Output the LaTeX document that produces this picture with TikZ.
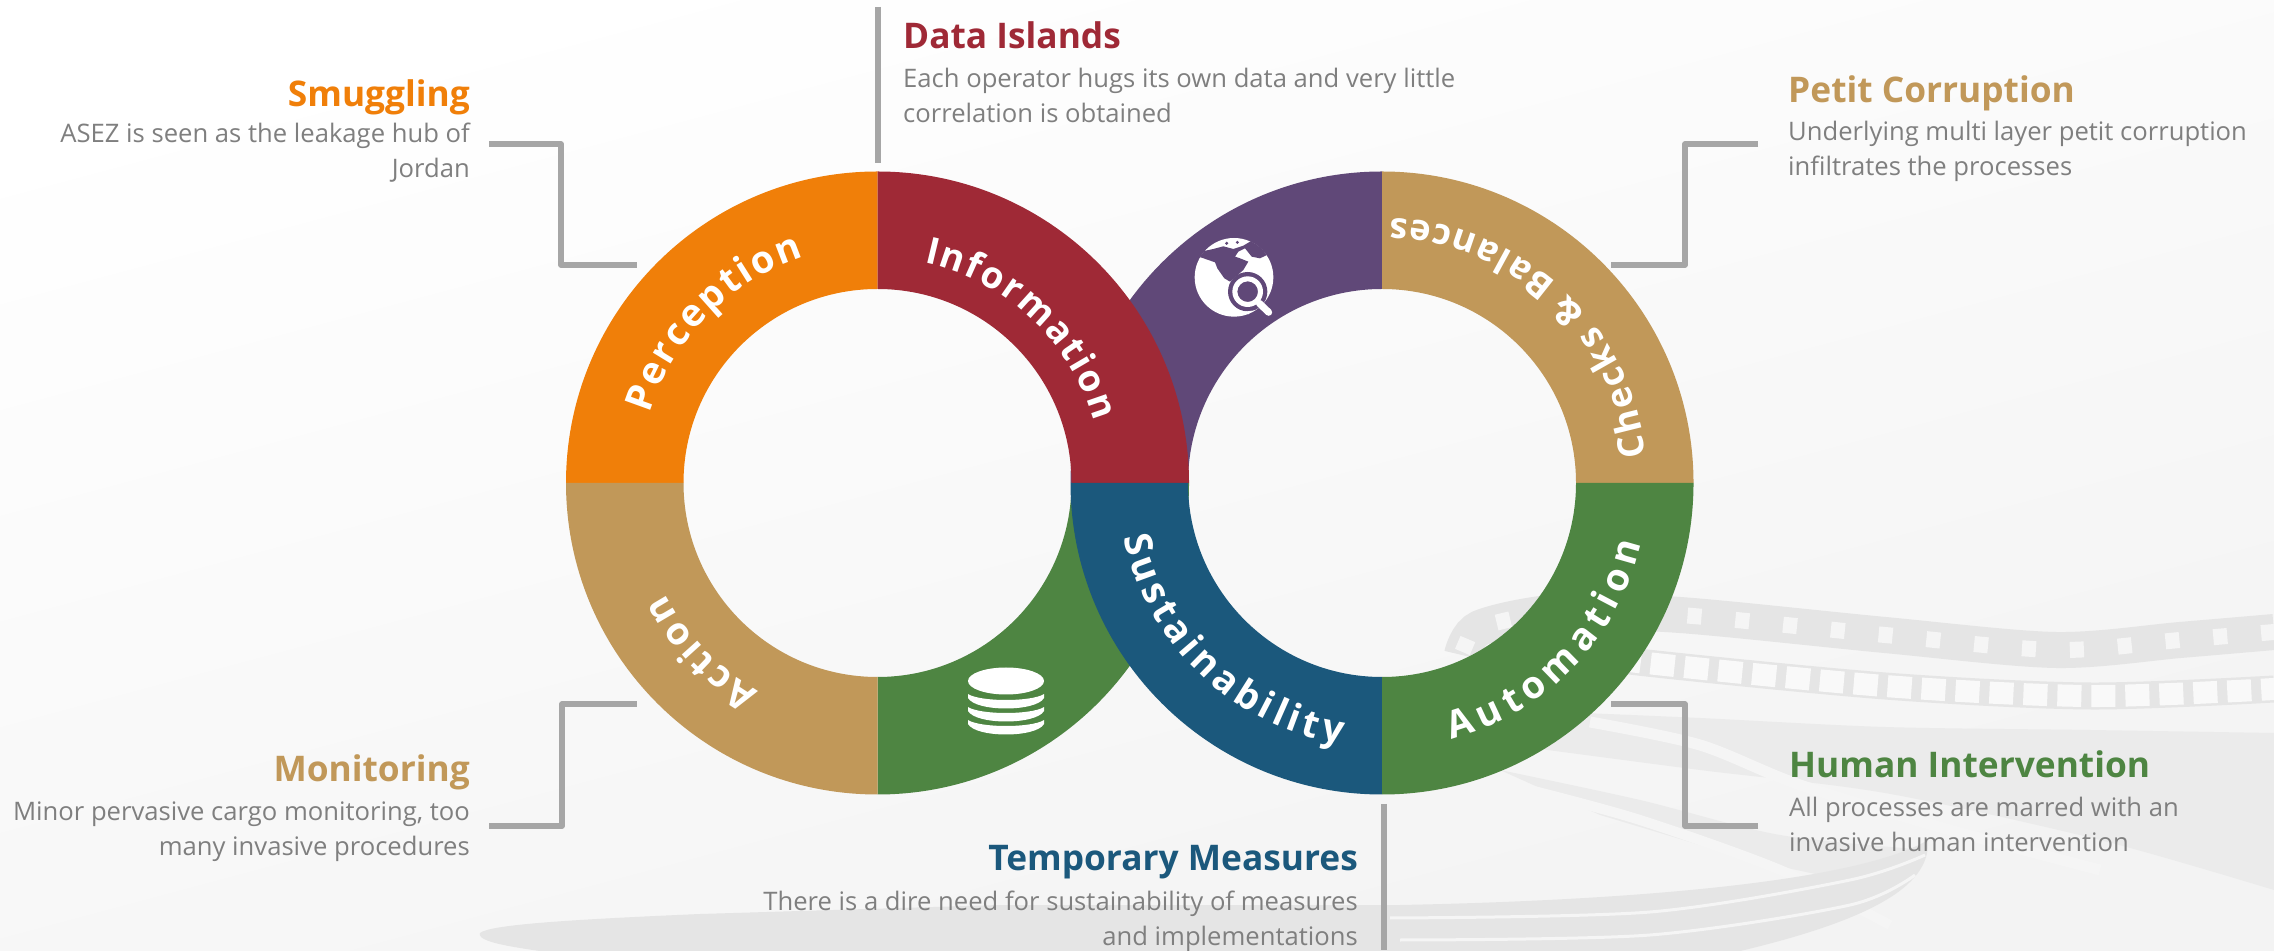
\documentclass[tikz,border=0pt]{standalone}
\usepackage{fontspec}
\setmainfont{Open Sans}
\newfontfamily\bodyfont{Open Sans}[FakeStretch=1.005]
\newfontfamily\titlefont{Open Sans}[FakeStretch=1.0]
\newfontfamily\ringfamily{Open Sans}
\usetikzlibrary{decorations.markings}
\definecolor{cOrange}{HTML}{F07F09}
\definecolor{cRed}{HTML}{9F2936}
\definecolor{cBlue}{HTML}{1B587C}
\definecolor{cGreen}{HTML}{4E8542}
\definecolor{cPurple}{HTML}{604878}
\definecolor{cTan}{HTML}{C19859}
\definecolor{cBody}{HTML}{7F7F7F}
\definecolor{cLead}{HTML}{A6A6A6}
\definecolor{wmA}{HTML}{E5E5E5}
\definecolor{wmB}{HTML}{EBEBEB}
\definecolor{wmC}{HTML}{F5F5F5}
\definecolor{bgEnd}{HTML}{F3F3F3}
\tikzset{
  px/.style={x=1pt,y=-1pt,yshift=950pt},
  ttl/.style={font=\titlefont\bfseries\fontsize{35.3}{40}\selectfont,inner sep=0pt},
  bod/.style={font=\bodyfont\fontsize{25.5}{35}\selectfont,text=cBody,inner sep=0pt},
  lead/.style={draw=cLead,line width=5.5pt,line join=round},
  ringletter/.style={inner sep=0pt,text=white,anchor=base},
  holes/.style={postaction={decorate,decoration={markings,
     mark=between positions 10pt and 1 step 48pt with {\fill[wmC] (-7pt,-8pt) rectangle (7pt,8pt);}}}},
  squares/.style={postaction={decorate,decoration={markings,
     mark=between positions 6pt and 1 step 34pt with {\fill[wmC!60!white] (-12pt,-11pt) rectangle (12pt,11pt);}}}},
}
\def\rs{38}
\newcommand{\ringf}{\ringfamily\bfseries\fontsize{\rs}{44}\selectfont}
\newcommand{\sect}[5]{%
  \fill[#1] (#2,#3) ++(#4:311.5) arc[start angle=#4,end angle=#5,radius=311.5]
    -- ++(#5:-117.5) arc[start angle=#5,end angle=#4,radius=194] -- cycle;}
% name, cx, cy, baseline radius, mid angle, dir (1 = clockwise with tops out, -1 = counter-clockwise with tops in), tracking, letter/advance list
\newcommand{\arctext}[8]{%
  \gdef\arcsum{0}%
  \foreach \ch/\wf in {#8}{%
    \pgfmathparse{\arcsum+\wf*\rs+#7}\xdef\arcsum{\pgfmathresult}}%
  \gdef\arcpos{0}%
  \foreach \ch/\wf [count=\i] in {#8}{%
    \pgfmathsetmacro\arcw{\wf*\rs}%
    \pgfmathsetmacro\arca{#5-#6*(\arcpos+\arcw/2+#7/2-\arcsum/2)/#4*57.29578}%
    \pgfmathsetmacro\arcr{\arca-#6*90}%
    \path (#2,#3) ++(\arca:#4) node[ringletter,rotate=\arcr] (#1\i) {\ringf\ch};
    \pgfmathparse{\arcpos+\arcw+#7}\xdef\arcpos{\pgfmathresult}}%
}
\begin{document}
\begin{tikzpicture}[x=1pt,y=1pt]
\useasboundingbox (0,0) rectangle (2274,950);
\shade[top color=white,bottom color=bgEnd,shading angle=15] (0,0) rectangle (2274,950);
% watermark
\begin{scope}[px]
\clip (0,0) rectangle (2274,950);
\fill[wmB] plot[smooth] coordinates {(1560,712)(1700,718)(1885,727)(2090,730)(2274,733)}
  -- (2274,890) -- plot[smooth] coordinates {(2274,890)(2100,840)(1885,793)(1700,770)(1510,745)} -- cycle;
\draw[wmC,line width=11pt] plot[smooth] coordinates {(1590,722)(1700,745)(1800,785)(1950,830)(2100,870)};
\fill[wmB] plot[smooth] coordinates {(1500,770)(1640,800)(1780,835)(1928,850)} -- (1890,890) -- (1750,860) -- (1600,815) -- cycle;
\draw[wmC,line width=10pt] plot[smooth] coordinates {(1530,790)(1640,820)(1780,870)(1890,925)};
\fill[wmA] (480,933) .. controls (490,925) and (560,920) .. (700,914) -- (1000,905) -- (1400,905)
  .. controls (1650,900) and (1860,880) .. (1928,840)
  .. controls (1930,880) and (1890,920) .. (1700,960) -- (600,960) .. controls (540,950) and (475,945) .. (480,933) -- cycle;
\draw[wmC,line width=3pt] plot[smooth] coordinates {(1390,918)(1650,912)(1850,880)(1925,855)};
\draw[wmC,line width=3pt] plot[smooth] coordinates {(1400,940)(1650,935)(1850,905)(1915,875)};
\draw[wmA,line width=36pt,holes] plot[smooth] coordinates {(1462,655)(1480,628)(1560,612)(1680,615)(1885,635)(2056,650)(2180,640)(2274,632)};
\draw[wmA,line width=27pt,squares] plot[smooth] coordinates {(1590,652)(1638,662)(1885,686)(2090,696)(2274,689)};
\end{scope}
% rings
\sect{cGreen}{877.5}{467}{270}{360}
\sect{cPurple}{1382}{467}{90}{180}
\sect{cOrange}{877.5}{467}{90}{180}
\sect{cRed}{877.5}{467}{0}{90}
\sect{cTan}{877.5}{467}{180}{270}
\sect{cBlue}{1382}{467}{180}{270}
\sect{cTan}{1382}{467}{0}{90}
\sect{cGreen}{1382}{467}{270}{360}
% ring labels
\arctext{pe}{877.5}{467}{238}{135.5}{1}{2.5}{P/.627,e/.59,r/.454,c/.514,e/.59,p/.633,t/.434,i/.305,o/.619,n/.657}
\arctext{ac}{877.5}{467}{240}{224}{1}{3}{A/.69,c/.514,t/.434,i/.305,o/.619,n/.657}
\def\rs{37}
\arctext{in}{877.5}{467}{225}{47}{1}{2}{I/.331,n/.657,f/.387,o/.619,r/.454,m/.986,a/.604,t/.434,i/.305,o/.619,n/.657}
\def\rs{36}
\arctext{ch}{1382}{467}{265}{47}{-1}{3.1}{C/.637,h/.657,e/.59,c/.514,k/.625,s/.497,~/.26,\&/.736,~/.26,B/.669,a/.604,l/.305,a/.604,n/.657,c/.514,e/.59,s/.497}
\def\rs{38}
\arctext{au}{1382}{467}{266}{-44}{-1}{6.4}{A/.69,u/.657,t/.434,o/.619,m/.986,a/.604,t/.434,i/.305,o/.619,n/.657}
\arctext{su}{1382}{467}{264}{-133.5}{-1}{4.5}{S/.551,u/.657,s/.497,t/.434,a/.604,i/.305,n/.657,a/.604,b/.633,i/.305,l/.305,i/.305,t/.434,y/.568}
% icons and texts in pixel coordinates
\begin{scope}[px]
% leaders
\coordinate (sm0) at (489,144); \coordinate (sm1) at (561,144); \coordinate (sm2) at (561,265); \coordinate (sm3) at (637,265);
\coordinate (pc0) at (1758,144); \coordinate (pc1) at (1685,144); \coordinate (pc2) at (1685,265); \coordinate (pc3) at (1611,265);
\coordinate (mo0) at (489,826); \coordinate (mo1) at (562,826); \coordinate (mo2) at (562,704); \coordinate (mo3) at (637,704);
\coordinate (hu0) at (1758,826); \coordinate (hu1) at (1685,826); \coordinate (hu2) at (1685,704); \coordinate (hu3) at (1611,704);
\coordinate (di0) at (878,7); \coordinate (di1) at (878,163);
\coordinate (tm0) at (1384,804); \coordinate (tm1) at (1384,950);
\draw[lead] (sm0) -- (sm1) -- (sm2) -- (sm3);
\draw[lead] (pc0) -- (pc1) -- (pc2) -- (pc3);
\draw[lead] (mo0) -- (mo1) -- (mo2) -- (mo3);
\draw[lead] (hu0) -- (hu1) -- (hu2) -- (hu3);
\draw[lead] (di0) -- (di1);
\draw[lead] (tm0) -- (tm1);
% titles and bodies (a two-line node has its base on its last line)
\node[ttl,text=cRed,anchor=base west] (t1) at (903,49) {Data Islands};
\node[bod,anchor=base west,align=left] (b1) at (903,123) {Each operator hugs its own data and very little\\correlation is obtained};
\node[ttl,text=cOrange,anchor=base east] (t2) at (470,107) {Smuggling};
\node[bod,anchor=base east,align=right] (b2) at (470,178) {ASEZ is seen as the leakage hub of\\Jordan};
\node[ttl,text=cTan,anchor=base west] (t3) at (1788,103) {Petit Corruption};
\node[bod,anchor=base west,align=left] (b3) at (1788,176) {Underlying multi layer petit corruption\\infiltrates the processes};
\node[ttl,text=cTan,anchor=base east] (t4) at (470,782) {Monitoring};
\node[bod,anchor=base east,align=right] (b4) at (470,856) {Minor pervasive cargo monitoring, too\\many invasive procedures};
\node[ttl,text=cGreen,anchor=base west] (t5) at (1789,778) {Human Intervention};
\node[bod,anchor=base west,align=left] (b5) at (1789,852) {All processes are marred with an\\invasive human intervention};
\node[ttl,text=cBlue,anchor=base east] (t6) at (1358,871) {Temporary Measures};
\node[bod,anchor=base east,align=right] (b6) at (1358,945) {There is a dire need for sustainability of measures\\and implementations};
% database icon
\fill[white] (1006,681) ellipse[x radius=38,y radius=13.5];
\foreach \dy in {0,13,26}{
  \fill[white,yshift=-\dy pt] (968,694) .. controls (980,702) and (1032,702) .. (1044,694) -- (1044,698)
    .. controls (1036,712) and (976,712) .. (968,698) -- cycle;
}
\end{scope}
% globe icon (drawn in 1/3 pixel units of a 110 x 110 crop)
\begin{scope}[x=0.3333pt,y=-0.3333pt,shift={(1180pt,725pt)}]
\fill[white] (162,157) circle[radius=118];
\begin{scope}
\clip (162,157) circle[radius=119];
\fill[cPurple] (20,85)--(72,78)--(100,72)--(130,64)--(160,72)--(190,62)--(215,47)--(295,55)--(265,88)--(240,100)--(215,95)--(195,70)--(175,80)--(165,95)--(180,100)--(205,110)--(190,135)--(150,170)--(133,160)--(112,130)--(105,112)--(62,97)--(20,110)--cycle;
\end{scope}
\fill[cPurple] (140,55) circle[radius=5];
\fill[cPurple] (172,52) circle[radius=5];
\fill[cPurple] (203,200) circle[radius=59];
\fill[white,even odd rule] (203,200) circle[radius=46] (203,200) circle[radius=31];
\draw[white,line width=7pt,line cap=round] (238,235) -- (266,262);
\fill[white] (186,262) -- (215,257) -- (205,268) -- cycle;
\end{scope}
\end{tikzpicture}
\end{document}
